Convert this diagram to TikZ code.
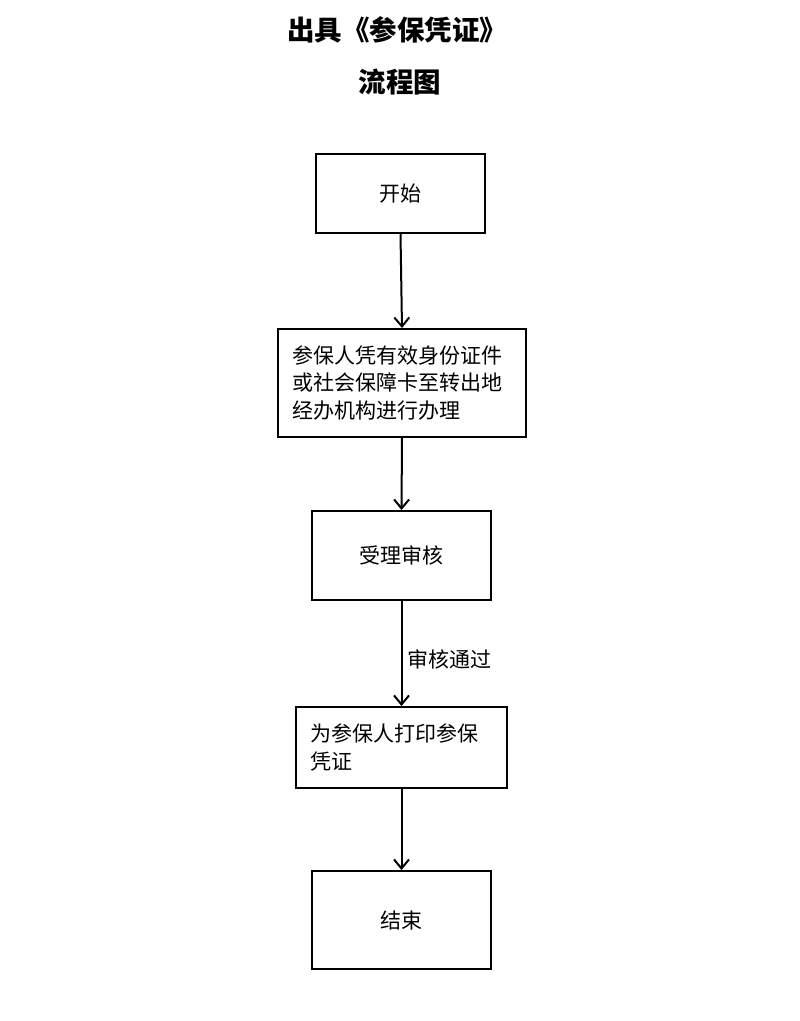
\documentclass[tikz,border=0pt]{standalone}
\usepackage{fontspec}
\usepackage{tikz}
\usetikzlibrary{arrows.meta}
\newfontfamily\cjk{Noto Sans CJK SC}

\begin{document}
\begin{tikzpicture}[x=1pt,y=-1pt]
\tikzstyle{every node}=[font=\cjk\fontsize{21}{27.5}\selectfont]
\tikzstyle{stepbox}=[draw, line width=2pt, inner sep=0pt, align=center]
\tikzstyle{flow}=[line width=2pt, ->, >={Straight Barb[length=9pt,width=15pt]}]
\useasboundingbox (0,0) rectangle (800,1021);
% title
\node [font=\cjk\bfseries\fontsize{27.5}{30}\selectfont] (title) at (397,30) {出具《参保凭证》};
\node [font=\cjk\bfseries\fontsize{27.5}{30}\selectfont] (subtitle) at (400,82) {流程图};
% boxes
\node [stepbox, minimum width=169, minimum height=79] (start) at (400.5,193.5) {开始};
\node [stepbox, minimum width=248, minimum height=108, text width=220, align=left] (apply) at (402,383) {参保人凭有效身份证件\\或社会保障卡至转出地\\经办机构进行办理};
\node [stepbox, minimum width=179, minimum height=89] (check) at (401.5,555.5) {受理审核};
\node [stepbox, minimum width=211, minimum height=81, text width=183, align=left] (print) at (401.5,747.5) {为参保人打印参保\\凭证};
\node [stepbox, minimum width=179, minimum height=98] (finish) at (401.5,920) {结束};
% arrows
\draw [flow] (start.south) -- (apply.north);
\draw [flow] (apply.south) -- (check.north);
\draw [flow] (check.south) -- node [right, pos=0.56, xshift=2pt] (pass) {审核通过} (print.north);
\draw [flow] (print.south -| finish.north) -- (finish.north);
\end{tikzpicture}
\end{document}
